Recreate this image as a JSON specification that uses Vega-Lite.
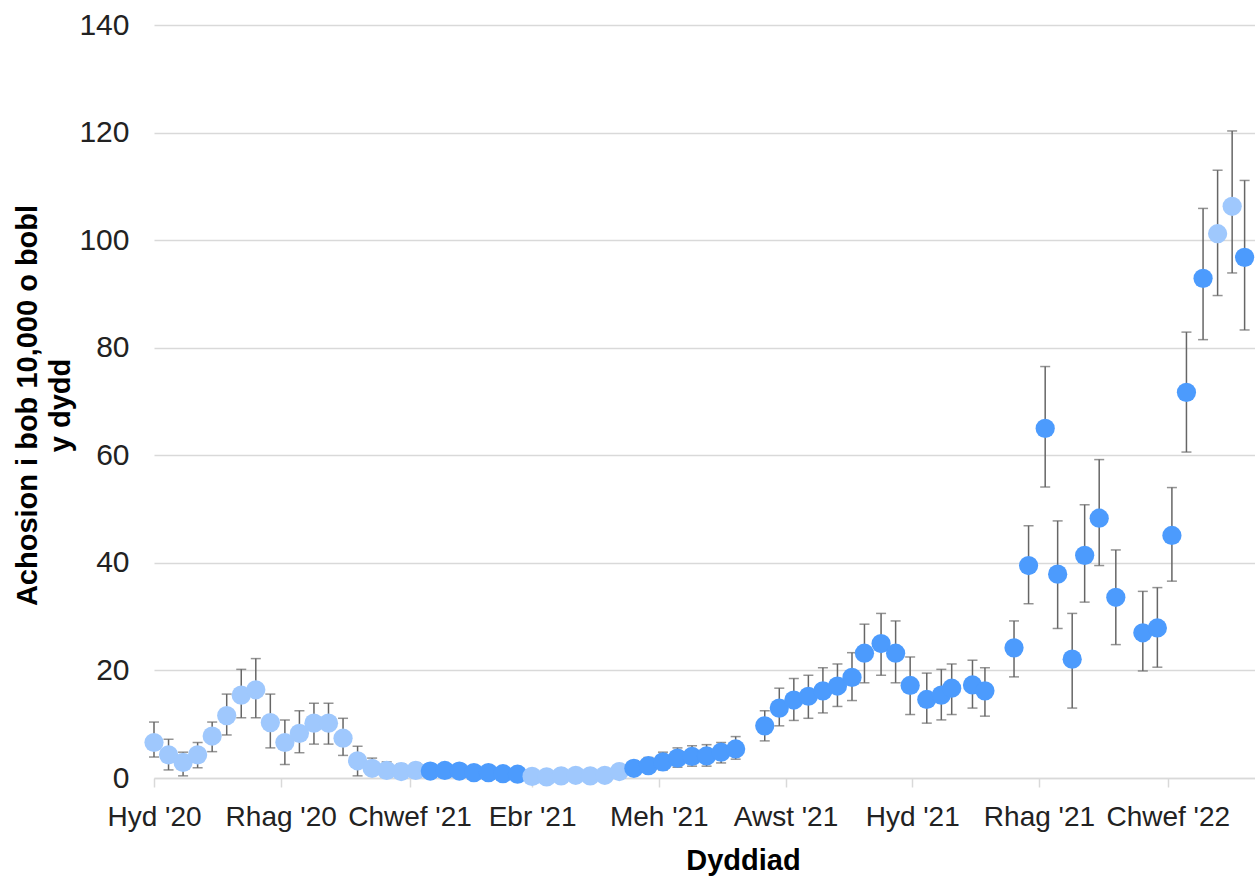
{
  "$schema": "https://vega.github.io/schema/vega-lite/v6.json",
  "width": 1101,
  "height": 753,
  "autosize": {"type": "none"},
  "padding": {"left": 154, "top": 25, "right": 0, "bottom": 98},
  "background": "white",
  "config": {"view": {"stroke": null}, "font": "Liberation Sans"},
  "data": {
    "values": [
      {"date": "2020-10-01", "value": 6.6, "low": 3.9, "high": 10.4, "group": "a"},
      {"date": "2020-10-08", "value": 4.3, "low": 1.5, "high": 7.2, "group": "a"},
      {"date": "2020-10-15", "value": 2.9, "low": 0.4, "high": 4.8, "group": "a"},
      {"date": "2020-10-22", "value": 4.3, "low": 1.9, "high": 6.6, "group": "a"},
      {"date": "2020-10-29", "value": 7.8, "low": 4.9, "high": 10.4, "group": "a"},
      {"date": "2020-11-05", "value": 11.6, "low": 8.0, "high": 15.6, "group": "a"},
      {"date": "2020-11-12", "value": 15.4, "low": 11.2, "high": 20.2, "group": "a"},
      {"date": "2020-11-19", "value": 16.4, "low": 11.2, "high": 22.2, "group": "a"},
      {"date": "2020-11-26", "value": 10.3, "low": 5.6, "high": 15.6, "group": "a"},
      {"date": "2020-12-03", "value": 6.6, "low": 2.5, "high": 10.8, "group": "a"},
      {"date": "2020-12-10", "value": 8.3, "low": 4.7, "high": 12.5, "group": "a"},
      {"date": "2020-12-17", "value": 10.2, "low": 6.3, "high": 13.9, "group": "a"},
      {"date": "2020-12-24", "value": 10.2, "low": 6.3, "high": 13.9, "group": "a"},
      {"date": "2020-12-31", "value": 7.4, "low": 4.2, "high": 11.1, "group": "a"},
      {"date": "2021-01-07", "value": 3.2, "low": 0.4, "high": 5.9, "group": "a"},
      {"date": "2021-01-14", "value": 1.8, "low": 0.6, "high": 3.7, "group": "a"},
      {"date": "2021-01-21", "value": 1.4, "low": 0.4, "high": 3.0, "group": "a"},
      {"date": "2021-01-28", "value": 1.2, "low": 0.3, "high": 2.6, "group": "a"},
      {"date": "2021-02-04", "value": 1.4, "low": 0.4, "high": 2.8, "group": "a"},
      {"date": "2021-02-11", "value": 1.3, "low": 0.4, "high": 2.5, "group": "b"},
      {"date": "2021-02-18", "value": 1.4, "low": 0.5, "high": 2.6, "group": "b"},
      {"date": "2021-02-25", "value": 1.3, "low": 0.4, "high": 2.5, "group": "b"},
      {"date": "2021-03-04", "value": 1.0, "low": 0.3, "high": 2.1, "group": "b"},
      {"date": "2021-03-11", "value": 1.0, "low": 0.3, "high": 2.0, "group": "b"},
      {"date": "2021-03-18", "value": 0.8, "low": 0.2, "high": 1.8, "group": "b"},
      {"date": "2021-03-25", "value": 0.7, "low": 0.1, "high": 1.7, "group": "b"},
      {"date": "2021-04-01", "value": 0.3, "low": 0.0, "high": 1.0, "group": "a"},
      {"date": "2021-04-08", "value": 0.2, "low": 0.0, "high": 0.9, "group": "a"},
      {"date": "2021-04-15", "value": 0.4, "low": 0.0, "high": 1.2, "group": "a"},
      {"date": "2021-04-22", "value": 0.5, "low": 0.0, "high": 1.3, "group": "a"},
      {"date": "2021-04-29", "value": 0.4, "low": 0.0, "high": 1.2, "group": "a"},
      {"date": "2021-05-06", "value": 0.5, "low": 0.0, "high": 1.3, "group": "a"},
      {"date": "2021-05-13", "value": 1.2, "low": 0.3, "high": 2.4, "group": "a"},
      {"date": "2021-05-20", "value": 1.8, "low": 0.7, "high": 3.2, "group": "b"},
      {"date": "2021-05-27", "value": 2.3, "low": 1.0, "high": 3.8, "group": "b"},
      {"date": "2021-06-03", "value": 3.0, "low": 1.5, "high": 4.8, "group": "b"},
      {"date": "2021-06-10", "value": 3.7, "low": 2.0, "high": 5.6, "group": "b"},
      {"date": "2021-06-17", "value": 4.0, "low": 2.2, "high": 6.0, "group": "b"},
      {"date": "2021-06-24", "value": 4.1, "low": 2.2, "high": 6.2, "group": "b"},
      {"date": "2021-07-01", "value": 4.8, "low": 2.8, "high": 6.6, "group": "b"},
      {"date": "2021-07-08", "value": 5.4, "low": 3.5, "high": 7.7, "group": "b"},
      {"date": "2021-07-22", "value": 9.7, "low": 6.9, "high": 12.5, "group": "b"},
      {"date": "2021-07-29", "value": 13.0, "low": 9.7, "high": 16.7, "group": "b"},
      {"date": "2021-08-05", "value": 14.5, "low": 10.7, "high": 18.5, "group": "b"},
      {"date": "2021-08-12", "value": 15.2, "low": 11.1, "high": 19.1, "group": "b"},
      {"date": "2021-08-19", "value": 16.2, "low": 12.1, "high": 20.5, "group": "b"},
      {"date": "2021-08-26", "value": 17.1, "low": 13.3, "high": 21.2, "group": "b"},
      {"date": "2021-09-02", "value": 18.7, "low": 14.4, "high": 23.3, "group": "b"},
      {"date": "2021-09-08", "value": 23.2, "low": 17.7, "high": 28.6, "group": "b"},
      {"date": "2021-09-16", "value": 25.0, "low": 19.1, "high": 30.6, "group": "b"},
      {"date": "2021-09-23", "value": 23.2, "low": 17.7, "high": 29.2, "group": "b"},
      {"date": "2021-09-30", "value": 17.2, "low": 11.8, "high": 22.5, "group": "b"},
      {"date": "2021-10-08", "value": 14.6, "low": 10.2, "high": 19.5, "group": "b"},
      {"date": "2021-10-15", "value": 15.4, "low": 10.8, "high": 20.2, "group": "b"},
      {"date": "2021-10-20", "value": 16.7, "low": 11.8, "high": 21.2, "group": "b"},
      {"date": "2021-10-30", "value": 17.3, "low": 13.0, "high": 21.9, "group": "b"},
      {"date": "2021-11-05", "value": 16.2, "low": 11.5, "high": 20.5, "group": "b"},
      {"date": "2021-11-19", "value": 24.2, "low": 18.8, "high": 29.2, "group": "b"},
      {"date": "2021-11-26", "value": 39.5, "low": 32.4, "high": 46.9, "group": "b"},
      {"date": "2021-12-04", "value": 65.0, "low": 54.1, "high": 76.5, "group": "b"},
      {"date": "2021-12-10", "value": 37.9, "low": 27.8, "high": 47.8, "group": "b"},
      {"date": "2021-12-17", "value": 22.1, "low": 13.0, "high": 30.6, "group": "b"},
      {"date": "2021-12-23", "value": 41.4, "low": 32.7, "high": 50.8, "group": "b"},
      {"date": "2021-12-30", "value": 48.3, "low": 39.5, "high": 59.2, "group": "b"},
      {"date": "2022-01-07", "value": 33.6, "low": 24.8, "high": 42.4, "group": "b"},
      {"date": "2022-01-20", "value": 27.0, "low": 19.9, "high": 34.7, "group": "b"},
      {"date": "2022-01-27", "value": 27.9, "low": 20.6, "high": 35.4, "group": "b"},
      {"date": "2022-02-03", "value": 45.1, "low": 36.6, "high": 54.0, "group": "b"},
      {"date": "2022-02-10", "value": 71.7, "low": 60.6, "high": 82.9, "group": "b"},
      {"date": "2022-02-18", "value": 92.9, "low": 81.5, "high": 105.9, "group": "b"},
      {"date": "2022-02-25", "value": 101.2, "low": 89.7, "high": 113.0, "group": "a"},
      {"date": "2022-03-04", "value": 106.3, "low": 93.9, "high": 120.3, "group": "a"},
      {"date": "2022-03-10", "value": 96.8, "low": 83.3, "high": 111.1, "group": "b"}
    ]
  },
  "encoding": {
    "x": {
      "field": "date",
      "type": "temporal",
      "scale": {
        "type": "utc",
        "domain": [
          {"year": 2020, "month": 10, "date": 1, "utc": true},
          {"year": 2022, "month": 3, "date": 15, "utc": true}
        ]
      },
      "axis": {
        "values": [
          {"year": 2020, "month": 10, "date": 1, "utc": true},
          {"year": 2020, "month": 12, "date": 1, "utc": true},
          {"year": 2021, "month": 2, "date": 1, "utc": true},
          {"year": 2021, "month": 4, "date": 1, "utc": true},
          {"year": 2021, "month": 6, "date": 1, "utc": true},
          {"year": 2021, "month": 8, "date": 1, "utc": true},
          {"year": 2021, "month": 10, "date": 1, "utc": true},
          {"year": 2021, "month": 12, "date": 1, "utc": true},
          {"year": 2022, "month": 2, "date": 1, "utc": true}
        ],
        "labelExpr": "['Ion','Chwef','Maw','Ebr','Mai','Meh','Gorff','Awst','Medi','Hyd','Tach','Rhag'][utcmonth(datum.value)] + \" '\" + utcFormat(datum.value, '%y')",
        "title": "Dyddiad",
        "grid": false,
        "domainColor": "#d9d9d9",
        "domainWidth": 1.5,
        "tickColor": "#d9d9d9",
        "tickWidth": 1.5,
        "tickSize": 9,
        "labelFontSize": 28,
        "labelColor": "#222222",
        "labelBaseline": "alphabetic",
        "labelPadding": 38,
        "labelFlush": false,
        "labelOverlap": false,
        "titleFontSize": 29,
        "titleFontWeight": "bold",
        "titleColor": "#000000",
        "titleX": 589,
        "titleY": 91,
        "titleAlign": "center",
        "titleBaseline": "alphabetic"
      }
    }
  },
  "layer": [
    {
      "mark": {
        "type": "errorbar",
        "ticks": {"size": 10, "thickness": 1.5, "color": "#666666"},
        "rule": {"strokeWidth": 1.5, "color": "#666666"}
      },
      "encoding": {
        "y": {
          "field": "low",
          "type": "quantitative",
          "title": ["Achosion i bob 10,000 o bobl", "y dydd"],
          "scale": {"domain": [0, 140], "nice": false}
        },
        "y2": {"field": "high"}
      }
    },
    {
      "mark": {"type": "point", "filled": true, "size": 370, "opacity": 1},
      "encoding": {
        "y": {
          "field": "value",
          "type": "quantitative",
          "scale": {"domain": [0, 140], "nice": false},
          "axis": {
            "title": ["Achosion i bob 10,000 o bobl", "y dydd"],
            "values": [0, 20, 40, 60, 80, 100, 120, 140],
            "grid": true,
            "gridColor": "#d9d9d9",
            "gridWidth": 1.3,
            "domain": false,
            "ticks": false,
            "labelFontSize": 30,
            "labelColor": "#222222",
            "labelPadding": 25,
            "titleFontSize": 29,
            "titleFontWeight": "bold",
            "titleColor": "#000000",
            "titleAngle": -90,
            "titleX": -118,
            "titleY": 380,
            "titleAlign": "center",
            "titleBaseline": "alphabetic",
            "titleLineHeight": 33
          }
        },
        "color": {
          "field": "group",
          "type": "nominal",
          "scale": {"domain": ["a", "b"], "range": ["#9fc8fd", "#4c9bfd"]},
          "legend": null
        }
      }
    }
  ]
}
